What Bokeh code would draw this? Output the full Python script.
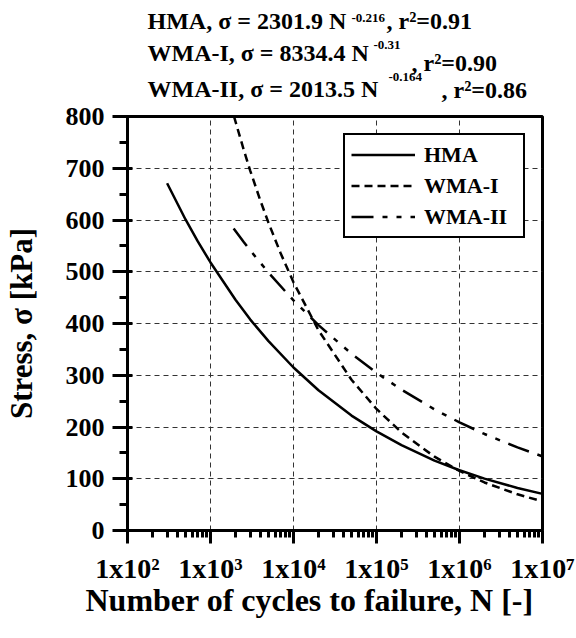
from bokeh.plotting import figure
from bokeh.layouts import column
from bokeh.models import (Range1d, FixedTicker, CustomJSTickFormatter,
                          Legend, LegendItem, Title)
from bokeh.core.properties import value
from bokeh.embed import file_html
from bokeh.resources import INLINE

# ---- data ----
n_hma = [300, 500, 700, 1e3, 2e3, 3e3, 5e3, 1e4, 2e4, 5e4, 1e5, 2e5, 5e5, 1e6, 2e6, 5e6, 1e7]
s_hma = [671, 601, 559, 518, 446, 408, 366, 315, 271, 222, 191.5, 165, 135, 116.4, 100.2, 82.2, 70.8]

n_wma1 = [1920, 2500, 3000, 4000, 5000, 7000, 1e4, 2e4, 5e4, 1e5, 2e5, 5e5, 1e6, 2e6, 5e6, 1e7]
s_wma1 = [800, 737, 696, 637, 594.5, 535.7, 479.6, 386.9, 291.2, 234.9, 189.5, 142.6, 115.0, 92.8, 69.9, 56.3]

n_wma2 = [1900, 2500, 3000, 5000, 1e4, 2e4, 5e4, 1e5, 2e5, 5e5, 1e6, 2e6, 5e6, 1e7]
s_wma2 = [583.7, 558, 541.6, 498.2, 444.6, 396.9, 341.5, 304.8, 272.1, 234.0, 208.9, 186.5, 160.5, 143.2]

x_ticks = [1e2, 1e3, 1e4, 1e5, 1e6, 1e7]
x_tick_labels = ["1x10\u00b2", "1x10\u00b3", "1x10\u2074", "1x10\u2075", "1x10\u2076", "1x10\u2077"]
y_ticks = [0, 100, 200, 300, 400, 500, 600, 700, 800]

series_names = ["HMA", "WMA-I", "WMA-II"]
eq_main = ["HMA, \u03c3 = 2301.9 N", "WMA-I, \u03c3 = 8334.4 N", "WMA-II, \u03c3 = 2013.5 N"]
eq_exp = ["-0.216", "-0.31", "-0.164"]
eq_r2 = [", r\u00b2=0.91", ", r\u00b2=0.90", ", r\u00b2=0.86"]

x_label = "Number of cycles to failure, N [-]"
y_label = "Stress, \u03c3 [kPa]"

FONT = "Liberation Serif"
W = 576
TOP_H = 102
FRAME_L, FRAME_R = 127, 542

# ---------- header with the fitted equations ----------
top = figure(width=W, height=TOP_H, x_range=Range1d(FRAME_L, FRAME_R),
             y_range=Range1d(TOP_H, 8),
             output_backend="svg", toolbar_location=None,
             x_axis_location=None, y_axis_location=None,
             min_border_left=FRAME_L, min_border_right=W - FRAME_R,
             min_border_top=8, min_border_bottom=0)
top.outline_line_color = None
top.xgrid.visible = False
top.ygrid.visible = False

# text anchors in header pixels (8 px layout offset compensated)
main_x, main_y = [147, 147, 147], [20, 52, 88]
exp_x, exp_y = [351, 373, 388], [17, 44, 76]
r2_x, r2_y = [386, 411, 441], [20, 62, 89]

common = dict(text_font=value(FONT), text_font_style="bold", text_color="black",
              text_baseline="alphabetic", text_align="left")
top.text(x=main_x, y=main_y, text=eq_main, text_font_size="24px", **common)
top.text(x=exp_x, y=exp_y, text=eq_exp, text_font_size="13px", **common)
top.text(x=r2_x, y=r2_y, text=eq_r2, text_font_size="24px", **common)

# ---------- main chart ----------
p = figure(width=W, height=638 - TOP_H, x_axis_type="log",
           x_range=Range1d(1e2, 1e7), y_range=Range1d(0, 800),
           output_backend="svg", toolbar_location=None,
           min_border_left=FRAME_L, min_border_right=W - FRAME_R,
           min_border_top=116 - TOP_H, min_border_bottom=108)

p.outline_line_color = "black"
p.outline_line_width = 3
p.background_fill_color = "white"
p.border_fill_color = "white"

minor_x = [m * 10 ** d for d in range(2, 7) for m in range(2, 10)]
p.xaxis.ticker = FixedTicker(ticks=x_ticks, minor_ticks=minor_x)
p.xaxis.formatter = CustomJSTickFormatter(args=dict(labels=x_tick_labels),
    code="const e = Math.round(Math.log10(tick)); return labels[e-2];")
p.yaxis.ticker = FixedTicker(ticks=y_ticks, minor_ticks=[50 + 100 * i for i in range(8)])

for ax in (p.xaxis, p.yaxis):
    ax.axis_line_width = 3
    ax.axis_line_color = "black"
    ax.major_tick_line_width = 3
    ax.minor_tick_line_width = 3
    ax.major_tick_line_color = "black"
    ax.minor_tick_line_color = "black"
    ax.major_label_text_font = FONT
    ax.major_label_text_font_style = "bold"
    ax.major_label_text_color = "black"
    ax.axis_label_text_font = FONT
    ax.axis_label_text_font_style = "bold"
    ax.axis_label_text_color = "black"

p.xaxis.major_label_text_font_size = "28px"
p.yaxis.major_label_text_font_size = "26px"

p.xaxis.major_tick_out = 13
p.xaxis.major_tick_in = 0
p.xaxis.minor_tick_out = 7
p.xaxis.minor_tick_in = 0
p.xaxis.major_label_standoff = 9

p.yaxis.major_tick_out = 15
p.yaxis.major_tick_in = 5
p.yaxis.minor_tick_out = 8
p.yaxis.minor_tick_in = 0
p.yaxis.major_label_standoff = 8
p.yaxis.axis_label = y_label
p.yaxis.axis_label_text_font_size = "31px"
p.yaxis.axis_label_standoff = 24

# x-axis title placed below the axis (slightly left of centre, as in the original)
p.add_layout(Title(text=x_label, align="left", offset=-42, standoff=-10,
                   vertical_align="top",
                   text_font=FONT, text_font_style="bold", text_font_size="32px",
                   text_color="black"), "below")

p.xgrid.ticker = FixedTicker(ticks=x_ticks[1:-1])
p.ygrid.ticker = FixedTicker(ticks=y_ticks[1:-1])
for g in (p.xgrid, p.ygrid):
    g.grid_line_color = "#333333"
    g.grid_line_width = 1
    g.grid_line_dash = "5 4"
    g.minor_grid_line_color = None

r1 = p.line(n_hma, s_hma, line_color="black", line_width=2.5)
r2 = p.line(n_wma1, s_wma1, line_color="black", line_width=2.5, line_dash="8 5")
r3 = p.line(n_wma2, s_wma2, line_color="black", line_width=2.5, line_dash="22 9 5 9 5 9")

legend = Legend(items=[LegendItem(label=series_names[0], renderers=[r1]),
                       LegendItem(label=series_names[1], renderers=[r2]),
                       LegendItem(label=series_names[2], renderers=[r3])],
                location=(216, 292), padding=6, spacing=4, margin=0,
                glyph_width=64, glyph_height=27, label_height=27,
                label_width=93, label_standoff=9,
                label_text_font=FONT, label_text_font_style="bold",
                label_text_font_size="22px", label_text_color="black",
                border_line_color="black", border_line_width=2, border_line_alpha=1.0,
                background_fill_color="white", background_fill_alpha=1.0)
p.add_layout(legend, "center")

layout = column(top, p, spacing=0)
open("out.html", "w").write(file_html(layout, INLINE))
